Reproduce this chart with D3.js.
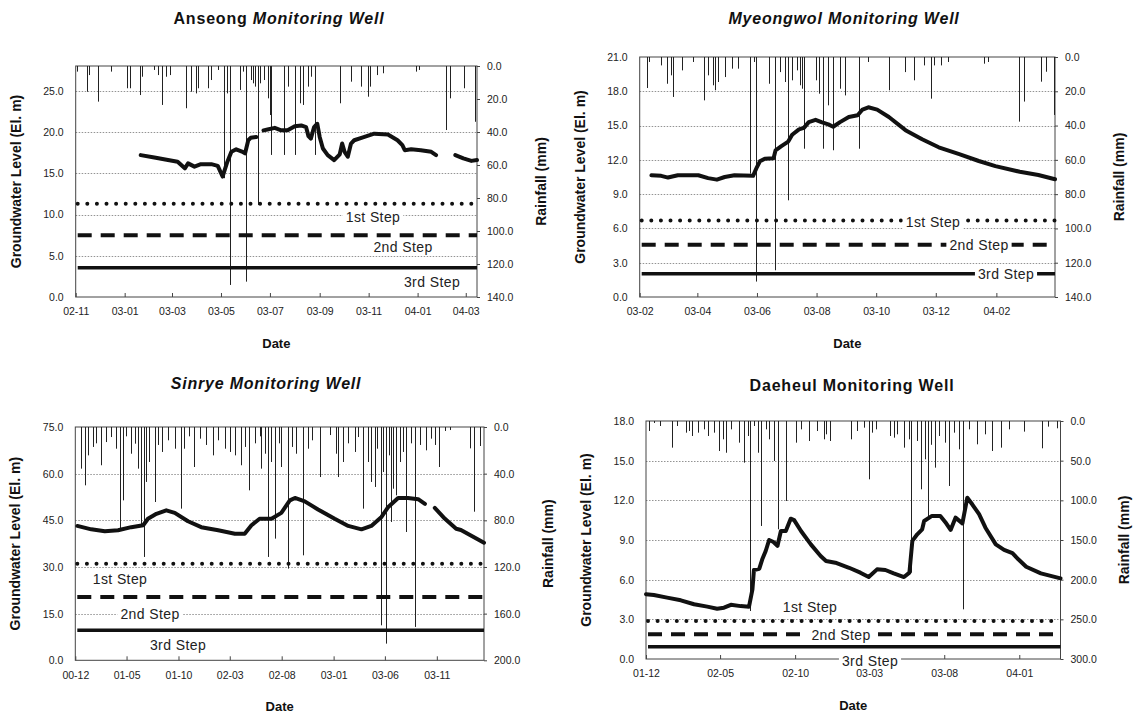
<!DOCTYPE html>
<html>
<head>
<meta charset="utf-8">
<script src="https://cdn.jsdelivr.net/npm/d3@7"></script>
<style>
  body { margin: 0; background: #fff; }
  svg { font-family: "Liberation Sans", Arial, sans-serif; }
</style>
</head>
<body>
<svg width="1135" height="715"></svg>
<script>
// ---- Anseong ----
const anseongTicks = ['02-11', '03-01', '03-03', '03-05', '03-07', '03-09', '03-11', '04-01', '04-03'];
const anseongSteps = [11.3, 7.5, 3.55];
const anseongLevel = [
  ['2003-01-21', 17.2], ['2003-02-07', 16.9], ['2003-02-24', 16.6], ['2003-03-08', 16.4], ['2003-03-17', 15.6],
  ['2003-03-21', 16.2], ['2003-03-29', 15.8], ['2003-04-06', 16.1], ['2003-04-19', 16.1], ['2003-04-27', 15.9],
  ['2003-05-03', 14.6], ['2003-05-09', 16.4], ['2003-05-14', 17.6], ['2003-05-20', 17.9], ['2003-05-28', 17.6],
  ['2003-05-31', 17.4], ['2003-06-04', 19.0], ['2003-06-07', 19.3], ['2003-06-14', 19.4], ['2003-06-18', null],
  ['2003-06-23', 20.2], ['2003-06-28', 20.3], ['2003-07-07', 20.5], ['2003-07-15', 20.2], ['2003-07-23', 20.2],
  ['2003-08-01', 20.7], ['2003-08-09', 20.8], ['2003-08-15', 20.6], ['2003-08-18', 19.5], ['2003-08-21', 19.2],
  ['2003-08-25', 20.6], ['2003-08-29', 21.0], ['2003-09-01', 19.4], ['2003-09-05', 18.0], ['2003-09-11', 17.2],
  ['2003-09-19', 16.6], ['2003-09-26', 17.3], ['2003-09-29', 18.6], ['2003-10-02', 17.6], ['2003-10-06', 17.0],
  ['2003-10-10', 18.6], ['2003-10-14', 19.0], ['2003-10-23', 19.3], ['2003-11-08', 19.8], ['2003-11-25', 19.7],
  ['2003-12-07', 19.0], ['2003-12-13', 18.4], ['2003-12-16', 17.8], ['2003-12-24', 17.9], ['2004-01-05', 17.8],
  ['2004-01-18', 17.6], ['2004-01-24', 17.2], ['2004-02-05', null], ['2004-02-17', 17.2], ['2004-02-27', 16.8],
  ['2004-03-08', 16.5], ['2004-03-15', 16.6]
];
const anseongRain = [
  ['2002-11-03', 3.4], ['2002-11-15', 15.6], ['2002-11-18', 5.5], ['2002-11-29', 21.6], ['2002-12-15', 3.4],
  ['2003-01-04', 13.5], ['2003-01-08', 13.5], ['2003-01-20', 17.6], ['2003-01-23', 6.5], ['2003-02-06', 2.4],
  ['2003-02-11', 5.5], ['2003-02-16', 23.6], ['2003-02-22', 6.5], ['2003-02-26', 5.5], ['2003-03-19', 25.6],
  ['2003-03-25', 15.6], ['2003-03-31', 16.6], ['2003-04-03', 13.5], ['2003-04-15', 13.5], ['2003-04-19', 8.5],
  ['2003-04-27', 2.4], ['2003-05-05', 68], ['2003-05-08', 16.6], ['2003-05-12', 132.7], ['2003-05-25', 14.5],
  ['2003-05-28', 3.4], ['2003-06-01', 130.7], ['2003-06-07', 8.5], ['2003-06-10', 10.5], ['2003-06-13', 12.5],
  ['2003-06-16', 84.2], ['2003-06-19', 10.5], ['2003-06-24', 8.5], ['2003-06-28', 19.6], ['2003-07-01', 29.7],
  ['2003-07-02', 53.9], ['2003-07-19', 53.9], ['2003-07-23', 12.5], ['2003-08-01', 53.9], ['2003-08-07', 22.6],
  ['2003-08-11', 23.6], ['2003-08-17', 12.5], ['2003-08-21', 6.5], ['2003-08-26', 53.9], ['2003-09-26', 22.6],
  ['2003-10-10', 9.5], ['2003-10-23', 12.5], ['2003-10-31', 18.6], ['2003-11-03', 12.5], ['2003-11-12', 5.5],
  ['2003-11-19', 4.4], ['2003-12-30', 3.4], ['2004-01-03', 2.4], ['2004-02-05', 38.8], ['2004-02-10', 19.6],
  ['2004-02-28', 13.5], ['2004-03-12', 33.8]
];

// ---- Myeongwol ----
const myeongwolTicks = ['03-02', '03-04', '03-06', '03-08', '03-10', '03-12', '04-02'];
const myeongwolSteps = [6.7, 4.58, 2.04];
const myeongwolLevel = [
  ['2003-02-13', 10.65], ['2003-02-23', 10.6], ['2003-03-02', 10.45], ['2003-03-12', 10.65], ['2003-04-02', 10.65],
  ['2003-04-12', 10.4], ['2003-04-21', 10.27], ['2003-04-29', 10.5], ['2003-05-09', 10.65], ['2003-05-28', 10.6],
  ['2003-06-01', 11.37], ['2003-06-04', 11.87], ['2003-06-09', 12.1], ['2003-06-18', 12.15], ['2003-06-20', 12.83],
  ['2003-06-26', 13.2], ['2003-07-03', 13.6], ['2003-07-07', 14.2], ['2003-07-14', 14.67], ['2003-07-19', 14.8],
  ['2003-07-24', 15.3], ['2003-07-31', 15.5], ['2003-08-06', 15.3], ['2003-08-13', 15.1], ['2003-08-18', 14.9],
  ['2003-08-25', 15.3], ['2003-09-03', 15.75], ['2003-09-12', 15.9], ['2003-09-17', 16.4], ['2003-09-23', 16.6],
  ['2003-10-02', 16.4], ['2003-10-14', 15.75], ['2003-10-31', 14.6], ['2003-11-17', 13.8], ['2003-12-04', 13.1],
  ['2003-12-25', 12.5], ['2004-01-14', 11.9], ['2004-01-31', 11.45], ['2004-02-25', 10.96], ['2004-03-15', 10.67],
  ['2004-04-01', 10.3]
];
const myeongwolRain = [
  ['2003-02-08', 18.1], ['2003-02-11', 2.9], ['2003-02-23', 4.9], ['2003-03-01', 15.6], ['2003-03-05', 10.7],
  ['2003-03-07', 23.3], ['2003-03-16', 7.8], ['2003-03-28', 2.9], ['2003-04-08', 25.3], ['2003-04-12', 10.7],
  ['2003-04-17', 16.5], ['2003-04-19', 19.4], ['2003-04-22', 14.6], ['2003-04-29', 11.7], ['2003-05-06', 6.8],
  ['2003-05-13', 6.8], ['2003-05-25', 68], ['2003-05-29', 2.9], ['2003-05-31', 131], ['2003-06-13', 15.6],
  ['2003-06-19', 124.4], ['2003-06-25', 8.8], ['2003-06-30', 14.6], ['2003-07-03', 83.6], ['2003-07-07', 13.6],
  ['2003-07-12', 7.8], ['2003-07-15', 16.5], ['2003-07-17', 18.5], ['2003-07-19', 53.5], ['2003-07-31', 13.6],
  ['2003-08-03', 21.4], ['2003-08-08', 53.5], ['2003-08-13', 28.2], ['2003-08-18', 54.4], ['2003-08-25', 18.5],
  ['2003-08-30', 22.4], ['2003-09-13', 53.5], ['2003-09-23', 2.9], ['2003-10-14', 19.4], ['2003-10-30', 8.8],
  ['2003-11-09', 13.6], ['2003-11-19', 4.9], ['2003-11-26', 24.3], ['2003-11-29', 4.9], ['2003-12-06', 4.9],
  ['2003-12-13', 2.9], ['2004-01-19', 3.9], ['2004-01-23', 2.9], ['2004-02-24', 37.7], ['2004-02-29', 26],
  ['2004-03-18', 14.4], ['2004-03-23', 8.6], ['2004-03-31', 33.8]
];

// ---- Sinrye ----
const sinryeTicks = ['00-12', '01-05', '01-10', '02-03', '02-08', '03-01', '03-06', '03-11'];
const sinryeSteps = [31.05, 20.35, 9.64];
const sinryeLevel = [
  ['2000-12-07', 43.2], ['2001-01-17', 42.1], ['2001-02-26', 41.5], ['2001-04-06', 41.8], ['2001-05-15', 42.8],
  ['2001-06-19', 43.4], ['2001-07-03', 45.5], ['2001-07-28', 47.1], ['2001-08-26', 48.2], ['2001-09-20', 47.4],
  ['2001-10-29', 44.7], ['2001-12-07', 42.8], ['2002-01-26', 41.8], ['2002-03-16', 40.7], ['2002-04-14', 40.7],
  ['2002-05-04', 43.4], ['2002-05-28', 45.5], ['2002-07-02', 45.5], ['2002-07-31', 47.4], ['2002-08-25', 51.4],
  ['2002-09-09', 52.2], ['2002-10-08', 51.1], ['2002-11-16', 48.5], ['2003-01-04', 45.5], ['2003-02-13', 43.2],
  ['2003-03-24', 42.1], ['2003-04-22', 43.2], ['2003-05-22', 46.1], ['2003-06-11', 49.3], ['2003-07-10', 52.2],
  ['2003-08-08', 52.2], ['2003-09-07', 51.8], ['2003-09-27', 50.3], ['2003-10-10', null], ['2003-10-26', 49],
  ['2003-11-25', 45.5], ['2003-12-28', 42.3], ['2004-01-11', 41.9], ['2004-03-19', 37.8]
];
const sinryeRain = [
  ['2000-12-19', 35.7], ['2000-12-29', 50], ['2001-01-07', 24.3], ['2001-01-22', 17.1], ['2001-02-01', 14],
  ['2001-02-14', 32.8], ['2001-03-02', 12.9], ['2001-03-17', 8.6], ['2001-04-01', 18.6], ['2001-04-11', 88.6],
  ['2001-04-21', 62.9], ['2001-04-30', 8], ['2001-05-15', 22.9], ['2001-05-25', 14.3], ['2001-06-04', 35.7],
  ['2001-06-14', 84.3], ['2001-06-21', 111.4], ['2001-06-28', 47.1], ['2001-07-05', 30], ['2001-07-23', 64.3],
  ['2001-08-02', 15.4], ['2001-08-14', 21.4], ['2001-08-31', 11.4], ['2001-09-20', 18.6], ['2001-10-09', 70],
  ['2001-10-17', 18.6], ['2001-10-31', 8], ['2001-11-16', 34.3], ['2001-12-03', 10], ['2001-12-22', 15.4],
  ['2002-01-11', 24.3], ['2002-01-26', 11.4], ['2002-02-14', 18.6], ['2002-03-01', 21.4], ['2002-03-16', 24.3],
  ['2002-04-04', 32.8], ['2002-04-14', 17.1], ['2002-04-26', 54.3], ['2002-05-14', 14], ['2002-05-28', 8],
  ['2002-06-02', 35.7], ['2002-06-12', 22.9], ['2002-06-22', 111.4], ['2002-06-30', 30], ['2002-07-12', 95.7],
  ['2002-07-23', 14], ['2002-07-31', 34.3], ['2002-08-20', 121.4], ['2002-08-30', 17.1], ['2002-09-13', 22.9],
  ['2002-10-03', 110], ['2002-10-18', 18.6], ['2002-10-28', 11.4], ['2002-11-21', 42.9], ['2002-12-21', 6.9],
  ['2003-01-09', 22.9], ['2003-01-14', 42.9], ['2003-01-29', 30], ['2003-02-13', 14], ['2003-03-04', 21.4],
  ['2003-03-14', 8.6], ['2003-03-29', 70], ['2003-04-13', 30], ['2003-04-22', 47.1], ['2003-05-02', 51.4],
  ['2003-05-10', 18.6], ['2003-05-20', 170], ['2003-05-27', 38.6], ['2003-06-04', 185.7], ['2003-06-13', 24.3],
  ['2003-06-18', 81.4], ['2003-06-25', 52.9], ['2003-07-05', 58.6], ['2003-07-15', 30], ['2003-07-25', 21.4],
  ['2003-08-03', 90], ['2003-08-16', 14], ['2003-08-30', 171.4], ['2003-09-12', 15.4], ['2003-10-01', 20],
  ['2003-10-14', 10], ['2003-10-26', 15.4], ['2003-11-07', 34.3], ['2003-11-25', 3.4], ['2003-12-09', 2.6],
  ['2004-02-06', 18.3], ['2004-02-20', 72.6], ['2004-03-06', 16.3]
];

// ---- Daeheul ----
const daeheulTicks = ['01-12', '02-05', '02-10', '03-03', '03-08', '04-01'];
const daeheulSteps = [2.87, 1.87, 0.93];
const daeheulLevel = [
  ['2001-12-01', 4.9], ['2001-12-17', 4.84], ['2002-01-13', 4.64], ['2002-02-10', 4.44], ['2002-03-09', 4.14],
  ['2002-04-05', 3.96], ['2002-04-25', 3.8], ['2002-05-09', 3.88], ['2002-05-23', 4.1], ['2002-06-12', 4.0],
  ['2002-06-29', 3.96], ['2002-07-06', 5.27], ['2002-07-09', 6.73], ['2002-07-20', 6.83], ['2002-07-26', 7.54],
  ['2002-08-02', 8.17], ['2002-08-09', 9.0], ['2002-08-18', 8.85], ['2002-08-26', 8.55], ['2002-09-02', 9.68],
  ['2002-09-12', 9.68], ['2002-09-22', 10.61], ['2002-09-29', 10.5], ['2002-10-13', 9.68], ['2002-11-02', 8.67],
  ['2002-11-22', 7.79], ['2002-12-03', 7.41], ['2002-12-22', 7.28], ['2003-01-19', 6.9], ['2003-02-11', 6.53],
  ['2003-02-28', 6.2], ['2003-03-17', 6.78], ['2003-04-03', 6.73], ['2003-04-20', 6.48], ['2003-05-11', 6.2],
  ['2003-05-22', 6.53], ['2003-05-28', 8.93], ['2003-06-07', 9.43], ['2003-06-17', 9.81], ['2003-06-21', 10.44],
  ['2003-07-07', 10.82], ['2003-07-24', 10.82], ['2003-08-05', 10.26], ['2003-08-14', 9.76], ['2003-08-24', 10.69],
  ['2003-09-07', 10.26], ['2003-09-17', 12.2], ['2003-09-27', 11.7], ['2003-10-11', 10.95], ['2003-10-24', 9.93],
  ['2003-11-14', 8.67], ['2003-12-01', 8.25], ['2003-12-18', 8.0], ['2003-12-30', 7.54], ['2004-01-15', 6.98],
  ['2004-02-14', 6.48], ['2004-03-25', 6.1]
];
const daeheulRain = [
  ['2001-12-07', 12.6], ['2001-12-17', 2.5], ['2001-12-30', 6.3], ['2002-01-22', 33.6], ['2002-02-03', 6.3],
  ['2002-02-20', 14.7], ['2002-02-27', 12.6], ['2002-03-05', 18.9], ['2002-03-16', 14.7], ['2002-03-29', 10.5],
  ['2002-04-06', 18.9], ['2002-04-19', 14.7], ['2002-04-29', 37.8], ['2002-05-06', 23.1], ['2002-05-13', 40],
  ['2002-05-23', 10.5], ['2002-06-09', 27.3], ['2002-06-19', 52.5], ['2002-06-26', 18.9], ['2002-07-01', 239.5],
  ['2002-07-09', 6.3], ['2002-07-17', 40], ['2002-07-23', 132.3], ['2002-08-02', 10.5], ['2002-08-09', 23.1],
  ['2002-08-19', 50.4], ['2002-08-27', 136.5], ['2002-09-12', 100.8], ['2002-10-02', 27.3], ['2002-10-13', 10.5],
  ['2002-10-30', 25.2], ['2002-11-15', 12.6], ['2002-11-29', 23.1], ['2002-12-02', 16.8], ['2002-12-12', 25.2],
  ['2003-01-22', 23.1], ['2003-02-04', 12.6], ['2003-02-18', 8.4], ['2003-02-28', 73.5], ['2003-03-06', 14.7],
  ['2003-03-14', 10.5], ['2003-04-13', 18.9], ['2003-04-20', 21], ['2003-04-27', 16.8], ['2003-05-11', 33.6],
  ['2003-05-21', 23.1], ['2003-05-26', 191.2], ['2003-06-07', 25.2], ['2003-06-15', 86.1], ['2003-06-23', 48.3],
  ['2003-06-29', 119.8], ['2003-07-04', 30], ['2003-07-14', 58.8], ['2003-07-21', 18.9], ['2003-08-02', 27.3],
  ['2003-08-11', 81.9], ['2003-08-21', 14.7], ['2003-08-31', 35.7], ['2003-09-09', 237.4], ['2003-09-20', 10.5],
  ['2003-10-07', 29.4], ['2003-10-24', 16.8], ['2003-11-07', 37.8], ['2003-11-24', 33.6], ['2003-12-11', 10.5],
  ['2004-01-11', 13.4], ['2004-02-17', 34.4], ['2004-02-28', 7.1], ['2004-03-18', 9.2]
];

const stepNames = ['1st Step', '2nd Step', '3rd Step'];

const panels = [
  {
    title: [['Anseong', 'normal'], [' Monitoring Well', 'italic']], titleX: 279, titleY: 24,
    box: {left: 75.7, right: 477, top: 66, bottom: 297},
    start: '2002-11-01', end: '2004-03-15',
    levelMax: 28, levelStep: 5, rainMax: 140, rainStep: 20,
    level: anseongLevel, rain: anseongRain, ticks: anseongTicks, steps: anseongSteps,
    labelPos: [[373, 217], [403, 247], [432, 282]]
  },
  {
    title: [['Myeongwol Monitoring Well', 'italic']], titleX: 844, titleY: 24,
    box: {left: 639.7, right: 1055, top: 57, bottom: 297},
    start: '2003-02-01', end: '2004-04-01',
    levelMax: 21, levelStep: 3, rainMax: 140, rainStep: 20,
    level: myeongwolLevel, rain: myeongwolRain, ticks: myeongwolTicks, steps: myeongwolSteps,
    labelPos: [[933, 222], [979, 245], [1006, 274]]
  },
  {
    title: [['Sinrye Monitoring Well', 'italic']], titleX: 266, titleY: 389,
    box: {left: 75.3, right: 484, top: 427, bottom: 660.3},
    start: '2000-12-01', end: '2004-03-19',
    levelMax: 75, levelStep: 15, rainMax: 200, rainStep: 40,
    level: sinryeLevel, rain: sinryeRain, ticks: sinryeTicks, steps: sinryeSteps,
    labelPos: [[120, 579], [150, 614], [178, 645]]
  },
  {
    title: [['Daeheul Monitoring Well', 'normal']], titleX: 852, titleY: 391,
    box: {left: 646, right: 1060.5, top: 421, bottom: 659},
    start: '2001-12-01', end: '2004-03-25',
    levelMax: 18, levelStep: 3, rainMax: 300, rainStep: 50,
    level: daeheulLevel, rain: daeheulRain, ticks: daeheulTicks, steps: daeheulSteps,
    labelPos: [[810, 607], [841, 635], [870, 661]]
  }
];

const parseDay = d3.timeParse('%Y-%m-%d');
const parseTick = d3.timeParse('%y-%m');
const fmt1 = d3.format('.1f');
const svg = d3.select('svg');

const stepStyles = [
  {dash: '0,9.6', width: 4, cap: 'round'},
  {dash: '14,9', width: 4, cap: 'butt'},
  {dash: null, width: 3.5, cap: 'butt'}
];

panels.forEach(drawPanel);

function drawPanel(p) {
  const b = p.box;
  const x = d3.scaleTime()
    .domain([parseDay(p.start), parseDay(p.end)])
    .range([b.left, b.right]);
  const yL = d3.scaleLinear().domain([0, p.levelMax]).range([b.bottom, b.top]);
  const yR = d3.scaleLinear().domain([0, p.rainMax]).range([b.top, b.bottom]);
  const g = svg.append('g');

  const levelTicks = d3.range(0, p.levelMax + 0.001, p.levelStep);
  const rainTicks = d3.range(0, p.rainMax + 0.001, p.rainStep);

  // gridlines
  g.append('g').selectAll('line')
    .data(levelTicks.filter(v => v > 0 && v < p.levelMax))
    .join('line')
      .attr('x1', b.left).attr('x2', b.right)
      .attr('y1', d => Math.round(yL(d)) + 0.5).attr('y2', d => Math.round(yL(d)) + 0.5)
      .attr('stroke', '#777').attr('stroke-width', 0.8)
      .attr('stroke-dasharray', '1.5,1.5');

  // frame
  g.append('rect')
    .attr('x', b.left).attr('y', b.top)
    .attr('width', b.right - b.left).attr('height', b.bottom - b.top)
    .attr('fill', 'none').attr('stroke', '#444').attr('stroke-width', 1);

  // axes
  g.append('g')
    .attr('transform', `translate(${b.left},0)`)
    .call(d3.axisLeft(yL).tickValues(levelTicks).tickFormat(fmt1).tickSize(0).tickPadding(12))
    .call(a => a.select('.domain').remove());

  g.append('g')
    .attr('transform', `translate(${b.right},0)`)
    .call(d3.axisRight(yR).tickValues(rainTicks).tickFormat(fmt1).tickSize(3).tickPadding(7))
    .call(a => a.select('.domain').remove());

  g.append('g')
    .attr('transform', `translate(0,${b.bottom})`)
    .call(d3.axisBottom(x)
      .tickValues(p.ticks.map(parseTick))
      .tickFormat(d3.timeFormat('%y-%m'))
      .tickSizeInner(-4).tickSizeOuter(0).tickPadding(11))
    .call(a => a.select('.domain').remove());

  g.selectAll('.tick text')
    .attr('font-family', '"Liberation Sans", Arial, sans-serif')
    .attr('font-size', 10.5)
    .attr('fill', '#222');
  g.selectAll('.tick line').attr('stroke', '#444');

  // rainfall bars hanging from the top
  g.append('g').selectAll('line')
    .data(p.rain)
    .join('line')
      .attr('x1', d => Math.round(x(parseDay(d[0]))) + 0.5)
      .attr('x2', d => Math.round(x(parseDay(d[0]))) + 0.5)
      .attr('y1', yR(0))
      .attr('y2', d => yR(d[1]))
      .attr('stroke', '#222')
      .attr('stroke-width', 1);

  // step lines
  g.append('g').selectAll('line')
    .data(p.steps)
    .join('line')
      .attr('x1', b.left + 2).attr('x2', b.right)
      .attr('y1', d => yL(d)).attr('y2', d => yL(d))
      .attr('stroke', '#111')
      .attr('stroke-width', (d, i) => stepStyles[i].width)
      .attr('stroke-dasharray', (d, i) => stepStyles[i].dash)
      .attr('stroke-linecap', (d, i) => stepStyles[i].cap);

  // groundwater level
  const line = d3.line()
    .defined(d => d[1] != null)
    .x(d => x(parseDay(d[0])))
    .y(d => yL(d[1]));

  g.append('path')
    .datum(p.level)
    .attr('d', line)
    .attr('fill', 'none')
    .attr('stroke', '#111')
    .attr('stroke-width', 4)
    .attr('stroke-linejoin', 'round')
    .attr('stroke-linecap', 'round');

  // step labels on white
  const labels = g.append('g').selectAll('g')
    .data(stepNames)
    .join('g')
      .attr('transform', (d, i) => `translate(${p.labelPos[i][0]},${p.labelPos[i][1]})`);
  const texts = labels.append('text')
    .attr('text-anchor', 'middle')
    .attr('dy', '0.36em')
    .attr('font-size', 14)
    .attr('letter-spacing', 0.4)
    .attr('fill', '#222')
    .text(d => d);
  texts.each(function() {
    const bb = this.getBBox();
    d3.select(this.parentNode).insert('rect', 'text')
      .attr('x', bb.x - 3).attr('y', bb.y + 1)
      .attr('width', bb.width + 6).attr('height', bb.height - 2)
      .attr('fill', '#fff');
  });

  // title
  const title = g.append('text')
    .attr('x', p.titleX).attr('y', p.titleY)
    .attr('text-anchor', 'middle')
    .attr('font-size', 16)
    .attr('font-weight', 'bold')
    .attr('letter-spacing', 0.8)
    .attr('fill', '#111');
  p.title.forEach(t => title.append('tspan').attr('font-style', t[1]).text(t[0]));

  // axis titles
  const midY = (b.top + b.bottom) / 2;
  g.append('text')
    .attr('transform', `translate(${b.left - 60},${midY}) rotate(-90)`)
    .attr('text-anchor', 'middle').attr('dy', '0.35em')
    .attr('font-size', 14).attr('font-weight', 'bold').attr('fill', '#111')
    .text('Groundwater Level (El. m)');

  g.append('text')
    .attr('transform', `translate(${b.right + 64},${midY}) rotate(-90)`)
    .attr('text-anchor', 'middle').attr('dy', '0.35em')
    .attr('font-size', 14).attr('font-weight', 'bold').attr('fill', '#111')
    .text('Rainfall (mm)');

  g.append('text')
    .attr('x', (b.left + b.right) / 2).attr('y', b.bottom + 46)
    .attr('text-anchor', 'middle').attr('dy', '0.35em')
    .attr('font-size', 13).attr('font-weight', 'bold').attr('fill', '#111')
    .text('Date');
}
</script>
</body>
</html>
